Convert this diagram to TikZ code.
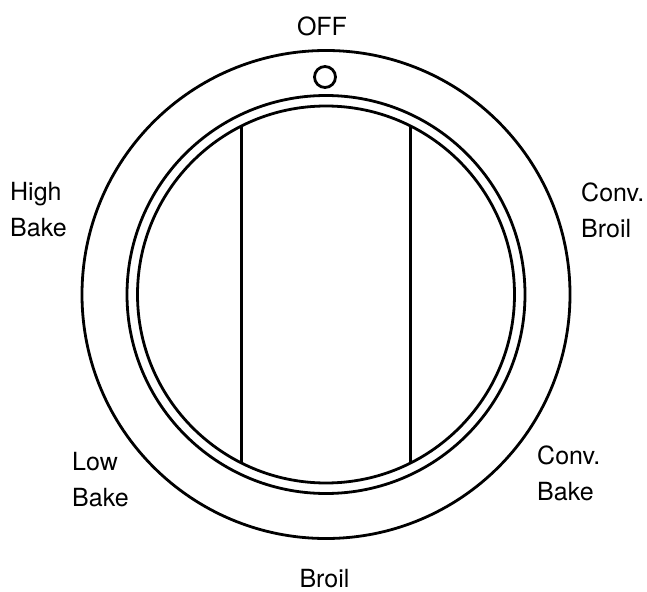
\documentclass[tikz,border=0pt]{standalone}
\usepackage{fontspec}
\setmainfont{TeX Gyre Heros}
\usetikzlibrary{calc}
\begin{document}
\begin{tikzpicture}[x=1bp,y=-1bp,
  ring/.style={draw=black,line width=2.8bp},
  divider/.style={draw=black,line width=2.5bp},
  lbl/.style={inner sep=0pt,font=\fontsize{25bp}{36bp}\selectfont,align=left,anchor=base west}]
\useasboundingbox (0,0) rectangle (647,592);
\coordinate (c) at (326,294.5);
\draw[ring] (c) circle[radius=244];
\draw[ring] (c) circle[radius=199];
\draw[ring] (c) circle[radius=188.5];
\node[ring,circle,minimum size=21bp,inner sep=0pt] (mark) at (325,77) {};
\coordinate (l1t) at ($(c)+(-84.3,-169.2)$);
\coordinate (l1b) at ($(c)+(-84.3,169.2)$);
\coordinate (l2t) at ($(c)+(84.3,-169.2)$);
\coordinate (l2b) at ($(c)+(84.3,169.2)$);
\draw[divider] (l1t) -- (l1b);
\draw[divider] (l2t) -- (l2b);
\node[lbl,anchor=base] (off) at (322,36) {OFF};
\node[lbl] (high) at (10,236.7) {High\\Bake};
\node[lbl] (cbroil) at (581,237.7) {Conv.\\Broil};
\node[lbl] (low) at (72,506) {Low\\Bake};
\node[lbl] (cbake) at (537,500) {Conv.\\Bake};
\node[lbl,anchor=base] (broil) at (324.5,587.7) {Broil};
\end{tikzpicture}
\end{document}
